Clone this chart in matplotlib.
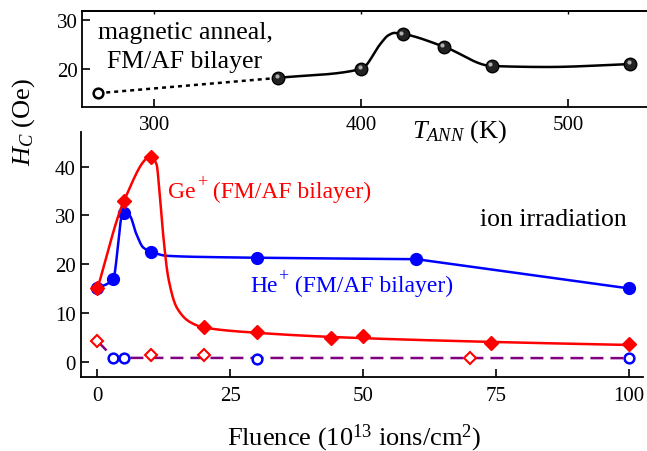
import numpy as np
import matplotlib
matplotlib.use('Agg')
import matplotlib.pyplot as plt
import matplotlib.transforms as mtransforms

plt.rcParams['font.family'] = 'serif'
plt.rcParams['font.serif'] = ['Liberation Serif', 'DejaVu Serif']
plt.rcParams['mathtext.fontset'] = 'custom'
plt.rcParams['mathtext.rm'] = 'Liberation Serif'
plt.rcParams['mathtext.it'] = 'Liberation Serif:italic'

# top panel: magnetic anneal
t_open = [273]
hc_open = [15.1]
t_ann = [360, 400, 420, 440, 463, 530]
hc_ann = [18.2, 20.0, 27.0, 24.5, 20.6, 21.0]
# knots of the smooth guide line
t_curve = [360, 400, 409.3, 413, 416, 420, 440, 463, 490, 530]
hc_curve = [18.2, 20.0, 25.1, 26.8, 27.3, 27.1, 24.5, 20.6, 20.4, 21.0]

# bottom panel: ion irradiation
ge_x = [0, 5, 10, 20, 30, 44, 50, 74, 100]
ge_y = [15.0, 33.0, 42.0, 7.0, 6.0, 4.9, 5.3, 3.8, 3.5]
ge_curve_x = [0, 5, 10, 11.1, 11.7, 12.4, 13.3, 14.9, 17.4, 20, 30, 45, 75, 100]
ge_curve_y = [15.0, 33.0, 42.0, 40.5, 34.4, 25.5, 17.3, 11.1, 8.1, 7.0, 5.9, 5.0, 4.0, 3.4]

he_x = [0, 3, 5, 10, 30, 60, 100]
he_y = [15.0, 17.0, 30.5, 22.5, 21.3, 21.0, 15.0]
he_curve_x = [0, 3, 3.9, 4.5, 5.1, 6.1, 7.3, 8.6, 10, 13, 23, 30, 60]
he_curve_y = [15.0, 17.1, 24.1, 29.6, 30.6, 29.9, 26.2, 23.4, 22.6, 21.7, 21.4, 21.3, 21.0]
he_tail_x = [60, 100]
he_tail_y = [21.0, 15.0]

ge_open_x = [0, 10, 20, 70]
ge_open_y = [4.2, 1.4, 1.3, 0.8]
he_open_x = [3, 5, 30, 100]
he_open_y = [0.8, 0.8, 0.6, 0.7]
ref_x = [0, 3, 5, 100]
ref_y = [4.2, 0.8, 0.75, 0.7]


def pchip(x, y, xs):
    x = np.asarray(x, float)
    y = np.asarray(y, float)
    h = np.diff(x)
    d = np.diff(y) / h
    m = np.zeros_like(y)
    m[0] = d[0]
    m[-1] = d[-1]
    for k in range(1, len(x) - 1):
        if d[k - 1] * d[k] > 0:
            w1 = 2 * h[k] + h[k - 1]
            w2 = h[k] + 2 * h[k - 1]
            m[k] = (w1 + w2) / (w1 / d[k - 1] + w2 / d[k])
    i = np.clip(np.searchsorted(x, xs) - 1, 0, len(x) - 2)
    t = (xs - x[i]) / h[i]
    h00 = 2 * t**3 - 3 * t**2 + 1
    h10 = t**3 - 2 * t**2 + t
    h01 = -2 * t**3 + 3 * t**2
    h11 = t**3 - t**2
    return h00 * y[i] + h10 * h[i] * m[i] + h01 * y[i + 1] + h11 * h[i] * m[i + 1]


W, H = 647, 452
fig = plt.figure(figsize=(W / 100, H / 100), dpi=100)
renderer = fig.canvas.get_renderer()

def fx(px):
    return px / W

def fy(py):
    return 1 - py / H

def ion_label(x, y, base, rest, color):
    # base text, raised "+" and the rest, placed one after another
    t1 = fig.text(fx(x), fy(y), base, fontsize=17, color=color, va='baseline')
    x1 = t1.get_window_extent(renderer).x1
    t2 = fig.text((x1 + 1) / W, fy(y - 11), '+', fontsize=13, color=color, va='baseline')
    x2 = t2.get_window_extent(renderer).x1
    fig.text(x2 / W, fy(y), rest, fontsize=17, color=color, va='baseline')

# ---- top panel
ax1 = fig.add_axes([fx(81.7), fy(108), fx(569.5), (108 - 11.7) / H])
ax1.set_xlim(265, 540)
ax1.set_ylim(12.3, 31.8)
ax1.set_xticks([300, 400, 500])
ax1.set_yticks([20, 30])
ax1.tick_params(axis='both', direction='in', length=6, width=1.2, labelsize=15)
ax1.tick_params(axis='x', pad=6)
ax1.tick_params(axis='y', pad=3)
for s in ax1.spines.values():
    s.set_linewidth(1.3)
top = ax1.secondary_xaxis('top')
top.set_xticks([300, 400, 500])
top.tick_params(direction='in', length=2.5, width=1.0, labeltop=False)
top.spines['top'].set_linewidth(1.3)

ax1.plot([t_open[0], t_ann[0]], [hc_open[0], hc_ann[0]], color='black', lw=1.8,
         dashes=(1.6, 1.6))
tt = np.linspace(t_curve[0], t_curve[-1], 600)
ax1.plot(tt, pchip(t_curve, hc_curve, tt), color='black', lw=1.8)
ax1.plot(t_open, hc_open, 'o', ms=7, mfc='white', mec='black', mew=1.8)
ax1.plot(t_ann, hc_ann, 'o', ms=9, mfc='#222222', mec='black', mew=1.0)
shine = mtransforms.offset_copy(ax1.transData, fig=fig, x=-1.2, y=1.2, units='points')
ax1.plot(t_ann, hc_ann, 'o', ms=3, mfc='#b0b0b0', mec='none', transform=shine)

# ---- bottom panel
ax2 = fig.add_axes([fx(81), fy(377.5), fx(562), (377.5 - 133) / H])
ax2.set_xlim(-3.1, 102.6)
ax2.set_ylim(-3.07, 47.1)
ax2.set_xticks([0, 25, 50, 75, 100])
ax2.set_yticks([0, 10, 20, 30, 40])
ax2.spines['top'].set_visible(False)
ax2.spines['right'].set_visible(False)
for s in ax2.spines.values():
    s.set_linewidth(1.3)
ax2.tick_params(axis='both', direction='in', length=6, width=1.2, labelsize=15)
ax2.tick_params(axis='x', pad=7)
ax2.tick_params(axis='y', pad=4)

xh = np.linspace(he_curve_x[0], he_curve_x[-1], 1000)
xg = np.linspace(ge_curve_x[0], ge_curve_x[-1], 1500)
ax2.plot(ref_x, ref_y, color='#800080', lw=1.8, dashes=(5.2, 2.8))
ax2.plot(xh, pchip(he_curve_x, he_curve_y, xh), color='blue', lw=1.8)
ax2.plot(he_tail_x, he_tail_y, color='blue', lw=1.8)
ax2.plot(he_x, he_y, 'o', ms=8.5, color='blue')
ax2.plot(xg, pchip(ge_curve_x, ge_curve_y, xg), color='red', lw=1.8)
ax2.plot(ge_x, ge_y, 'D', ms=7.5, color='red')
ax2.plot(ge_open_x, ge_open_y, 'D', ms=6.3, mfc='white', mec='red', mew=1.5)
ax2.plot(he_open_x, he_open_y, 'o', ms=7, mfc='white', mec='blue', mew=1.8)

# ---- texts
fig.text(fx(185), fy(39), 'magnetic anneal,', fontsize=18.5, ha='center', va='baseline')
fig.text(fx(185), fy(68), 'FM/AF bilayer', fontsize=18.5, ha='center', va='baseline')
fig.text(fx(460), fy(138), r'$T_{ANN}$ (K)', fontsize=19, ha='center', va='baseline')
fig.text(fx(24), fy(122), r'$H_C$ (Oe)', fontsize=19, rotation=90, ha='center', va='center')
ion_label(168, 198, 'Ge', ' (FM/AF bilayer)', 'red')
ion_label(250, 292, 'He', ' (FM/AF bilayer)', 'blue')
fig.text(fx(480), fy(226), 'ion irradiation', fontsize=18.5, ha='left', va='baseline')
fig.text(fx(354), fy(445), r'Fluence (10$^{13}$ ions/cm$^2$)', fontsize=19,
         ha='center', va='baseline')

fig.savefig('out.png', dpi=100)
